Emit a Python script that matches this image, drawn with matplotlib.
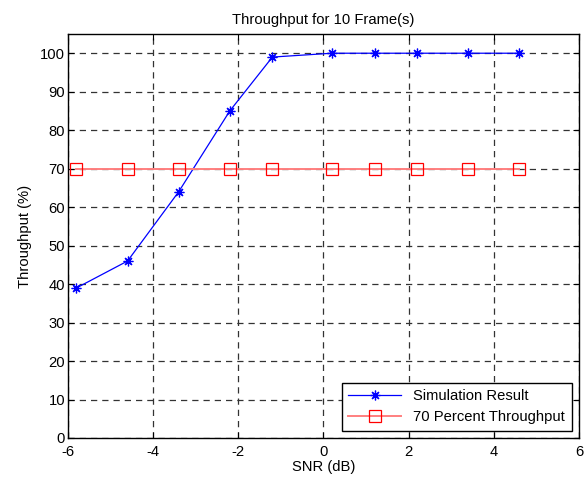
import matplotlib

matplotlib.use("Agg")
import matplotlib.pyplot as plt

plt.rcParams["font.family"] = ["Liberation Sans", "DejaVu Sans"]
plt.rcParams["axes.unicode_minus"] = False

# data
snr_db = [-5.8, -4.6, -3.4, -2.2, -1.2, 0.2, 1.2, 2.2, 3.4, 4.6]
throughput = [39, 46, 64, 85, 99, 100, 100, 100, 100, 100]
target = [70] * len(snr_db)
x_ticks = [-6, -4, -2, 0, 2, 4, 6]
y_ticks = list(range(0, 101, 10))

fs = 10.6
fig = plt.figure(figsize=(5.86, 4.82), dpi=100)
ax = fig.add_axes([0.116, 0.0913, 0.872, 0.8382])

ax.plot(snr_db, throughput, color="blue", lw=0.9, marker=(8, 2, 0),
        ms=7, mew=0.9, label="Simulation Result", zorder=3)
ax.plot(snr_db, target, color="#ff7f7f", lw=1.4, marker="s", ms=8,
        mfc="none", mec="red", mew=0.9, label="70 Percent Throughput", zorder=3)

ax.set_xlim(-6, 6)
ax.set_ylim(0, 105)
ax.set_xticks(x_ticks)
ax.set_yticks(y_ticks)
ax.grid(True, color="#333333", ls=(0, (5, 4)), lw=0.9)
ax.tick_params(direction="in", top=True, right=True, length=4,
               labelsize=fs)
ax.tick_params(axis="x", pad=5)
ax.tick_params(axis="y", pad=2)
for s in ax.spines.values():
    s.set_linewidth(1.0)
    s.set_color("black")

ax.set_title("Throughput for 10 Frame(s)", fontsize=fs, pad=7)
ax.set_xlabel("SNR (dB)", fontsize=fs, labelpad=1)
ax.set_ylabel("Throughput (%)", fontsize=fs, labelpad=6)

leg = ax.legend(loc="lower right", fontsize=fs, fancybox=False,
                edgecolor="black", framealpha=1, borderaxespad=0.5,
                handlelength=3.6, borderpad=0.45, labelspacing=0.45)
leg.get_frame().set_linewidth(1.0)

fig.savefig("out.png", dpi=100)
